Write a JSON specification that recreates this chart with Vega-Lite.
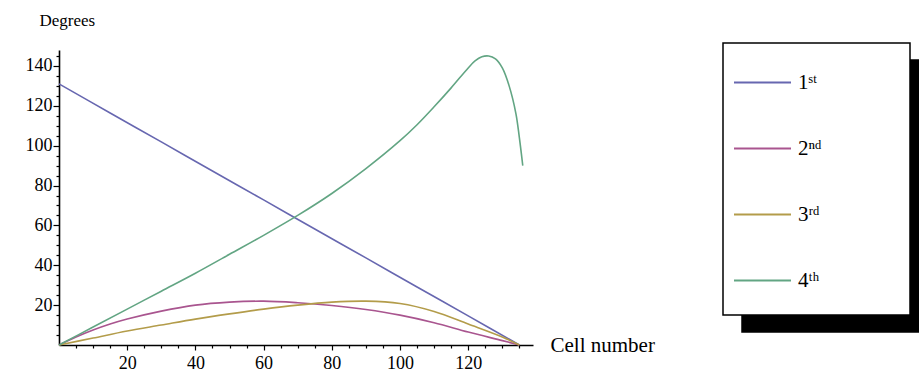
{
  "$schema": "https://vega.github.io/schema/vega-lite/v6.json",
  "autosize": "none",
  "width": 474,
  "height": 295,
  "padding": {"left": 59, "top": 50, "right": 386, "bottom": 40},
  "background": "white",
  "config": {
    "view": {"stroke": null},
    "font": "Liberation Serif",
    "legend": {"strokeWidth": 1.5}
  },
  "data": {
    "values": [
      {"cell": 0, "deg": 131, "series": "1st"},
      {"cell": 15, "deg": 116.4, "series": "1st"},
      {"cell": 30, "deg": 101.9, "series": "1st"},
      {"cell": 45, "deg": 87.3, "series": "1st"},
      {"cell": 60, "deg": 72.8, "series": "1st"},
      {"cell": 75, "deg": 58.2, "series": "1st"},
      {"cell": 90, "deg": 43.7, "series": "1st"},
      {"cell": 105, "deg": 29.1, "series": "1st"},
      {"cell": 120, "deg": 14.6, "series": "1st"},
      {"cell": 135, "deg": 0, "series": "1st"},

      {"cell": 0, "deg": 0, "series": "2nd"},
      {"cell": 5, "deg": 4, "series": "2nd"},
      {"cell": 10, "deg": 7.5, "series": "2nd"},
      {"cell": 15, "deg": 10.5, "series": "2nd"},
      {"cell": 20, "deg": 13, "series": "2nd"},
      {"cell": 30, "deg": 17, "series": "2nd"},
      {"cell": 40, "deg": 20, "series": "2nd"},
      {"cell": 50, "deg": 21.5, "series": "2nd"},
      {"cell": 60, "deg": 22, "series": "2nd"},
      {"cell": 70, "deg": 21.2, "series": "2nd"},
      {"cell": 80, "deg": 19.8, "series": "2nd"},
      {"cell": 90, "deg": 17.8, "series": "2nd"},
      {"cell": 100, "deg": 15, "series": "2nd"},
      {"cell": 110, "deg": 11.2, "series": "2nd"},
      {"cell": 120, "deg": 6.5, "series": "2nd"},
      {"cell": 130, "deg": 2.2, "series": "2nd"},
      {"cell": 135, "deg": 0, "series": "2nd"},

      {"cell": 0, "deg": 0, "series": "3rd"},
      {"cell": 10, "deg": 3.5, "series": "3rd"},
      {"cell": 20, "deg": 7, "series": "3rd"},
      {"cell": 30, "deg": 10, "series": "3rd"},
      {"cell": 40, "deg": 13, "series": "3rd"},
      {"cell": 50, "deg": 15.6, "series": "3rd"},
      {"cell": 60, "deg": 18, "series": "3rd"},
      {"cell": 70, "deg": 20, "series": "3rd"},
      {"cell": 80, "deg": 21.5, "series": "3rd"},
      {"cell": 90, "deg": 22, "series": "3rd"},
      {"cell": 100, "deg": 20.8, "series": "3rd"},
      {"cell": 110, "deg": 16.8, "series": "3rd"},
      {"cell": 120, "deg": 10.5, "series": "3rd"},
      {"cell": 130, "deg": 4, "series": "3rd"},
      {"cell": 135, "deg": 0, "series": "3rd"},

      {"cell": 0, "deg": 0, "series": "4th"},
      {"cell": 10, "deg": 9, "series": "4th"},
      {"cell": 20, "deg": 18, "series": "4th"},
      {"cell": 30, "deg": 27, "series": "4th"},
      {"cell": 40, "deg": 36, "series": "4th"},
      {"cell": 50, "deg": 45.5, "series": "4th"},
      {"cell": 60, "deg": 55, "series": "4th"},
      {"cell": 70, "deg": 65, "series": "4th"},
      {"cell": 80, "deg": 76, "series": "4th"},
      {"cell": 90, "deg": 88.5, "series": "4th"},
      {"cell": 100, "deg": 102.5, "series": "4th"},
      {"cell": 105, "deg": 110.5, "series": "4th"},
      {"cell": 110, "deg": 119.5, "series": "4th"},
      {"cell": 115, "deg": 129, "series": "4th"},
      {"cell": 120, "deg": 139, "series": "4th"},
      {"cell": 122, "deg": 142.5, "series": "4th"},
      {"cell": 124, "deg": 144.6, "series": "4th"},
      {"cell": 126, "deg": 145, "series": "4th"},
      {"cell": 128, "deg": 143.5, "series": "4th"},
      {"cell": 130, "deg": 139, "series": "4th"},
      {"cell": 132, "deg": 130, "series": "4th"},
      {"cell": 134, "deg": 116, "series": "4th"},
      {"cell": 135, "deg": 104, "series": "4th"},
      {"cell": 136, "deg": 90, "series": "4th"}
    ]
  },
  "mark": {"type": "line", "strokeWidth": 1.6, "interpolate": "catmull-rom"},
  "encoding": {
    "x": {
      "field": "cell",
      "type": "quantitative",
      "scale": {"domain": [0, 139], "nice": false, "zero": false},
      "axis": {
        "values": [5,10,15,20,25,30,35,40,45,50,55,60,65,70,75,80,85,90,95,100,105,110,115,120,125,130,135],
        "labelExpr": "datum.value % 20 === 0 ? datum.label : ''",
        "tickSize": {"condition": {"test": "datum.value % 20 === 0", "value": 5}, "value": 3},
        "tickColor": "black",
        "tickWidth": 1.2,
        "domainColor": "black",
        "domainWidth": 1.6,
        "grid": false,
        "labelFont": "Liberation Serif",
        "labelFontSize": 18,
        "labelColor": "black",
        "labelPadding": 4,
        "labelFlush": false,
        "title": "Cell number",
        "titleFont": "Liberation Serif",
        "titleFontSize": 21,
        "titleFontWeight": "normal",
        "titleColor": "black",
        "titleAlign": "left",
        "titleBaseline": "middle",
        "titleX": 491,
        "titleY": 0
      }
    },
    "y": {
      "field": "deg",
      "type": "quantitative",
      "scale": {"domain": [0, 148], "nice": false, "zero": false},
      "axis": {
        "values": [5,10,15,20,25,30,35,40,45,50,55,60,65,70,75,80,85,90,95,100,105,110,115,120,125,130,135,140,145],
        "labelExpr": "datum.value % 20 === 0 ? datum.label : ''",
        "tickSize": {"condition": {"test": "datum.value % 20 === 0", "value": 6}, "value": 3},
        "tickColor": "black",
        "tickWidth": 1.2,
        "domainColor": "black",
        "domainWidth": 1.6,
        "grid": false,
        "labelFont": "Liberation Serif",
        "labelFontSize": 18,
        "labelColor": "black",
        "labelPadding": 1,
        "labelFlush": false,
        "title": "Degrees",
        "titleFont": "Liberation Serif",
        "titleFontSize": 17,
        "titleFontWeight": "normal",
        "titleColor": "black",
        "titleAngle": 0,
        "titleAlign": "left",
        "titleBaseline": "middle",
        "titleX": -20,
        "titleY": -30
      }
    },
    "color": {
      "field": "series",
      "type": "nominal",
      "scale": {"domain": ["1st", "2nd", "3rd", "4th"], "range": ["#6767b0", "#a9558f", "#b39c4a", "#62a583"]},
      "legend": {
        "orient": "none",
        "legendX": 664,
        "legendY": -7,
        "title": "\u2800",
        "titleOrient": "bottom",
        "titleFontSize": 10,
        "titlePadding": 4,
        "fillColor": "white",
        "strokeColor": "black",
        "padding": 10,
        "symbolType": "stroke",
        "symbolSize": 3249,
        "symbolStrokeWidth": 2,
        "symbolOffset": 0,
        "rowPadding": 26,
        "labelFont": "Liberation Serif",
        "labelFontSize": 21,
        "labelColor": "black",
        "labelOffset": 6,
        "labelExpr": "(datum.label == '1st' ? '1ˢᵗ' : datum.label == '2nd' ? '2ⁿᵈ' : datum.label == '3rd' ? '3ʳᵈ' : '4ᵗʰ') + '\u00a0\u00a0\u00a0\u00a0\u00a0\u00a0\u00a0\u00a0\u00a0\u00a0\u00a0\u00a0\u2800'",
        "zindex": 1
      }
    },
    "opacity": {
      "field": "series",
      "type": "ordinal",
      "scale": {"range": [1, 1]},
      "legend": {
        "orient": "none",
        "legendX": 683,
        "legendY": 10,
        "title": "\u2800",
        "titleOrient": "bottom",
        "titleFontSize": 10,
        "titlePadding": 4,
        "fillColor": "black",
        "strokeColor": "black",
        "padding": 10,
        "symbolType": "stroke",
        "symbolSize": 3249,
        "symbolStrokeWidth": 2,
        "symbolOffset": 0,
        "symbolStrokeColor": "black",
        "rowPadding": 26,
        "labelFont": "Liberation Serif",
        "labelFontSize": 21,
        "labelColor": "black",
        "labelOffset": 140,
        "labelExpr": "''",
        "zindex": 0
      }
    }
  }
}
